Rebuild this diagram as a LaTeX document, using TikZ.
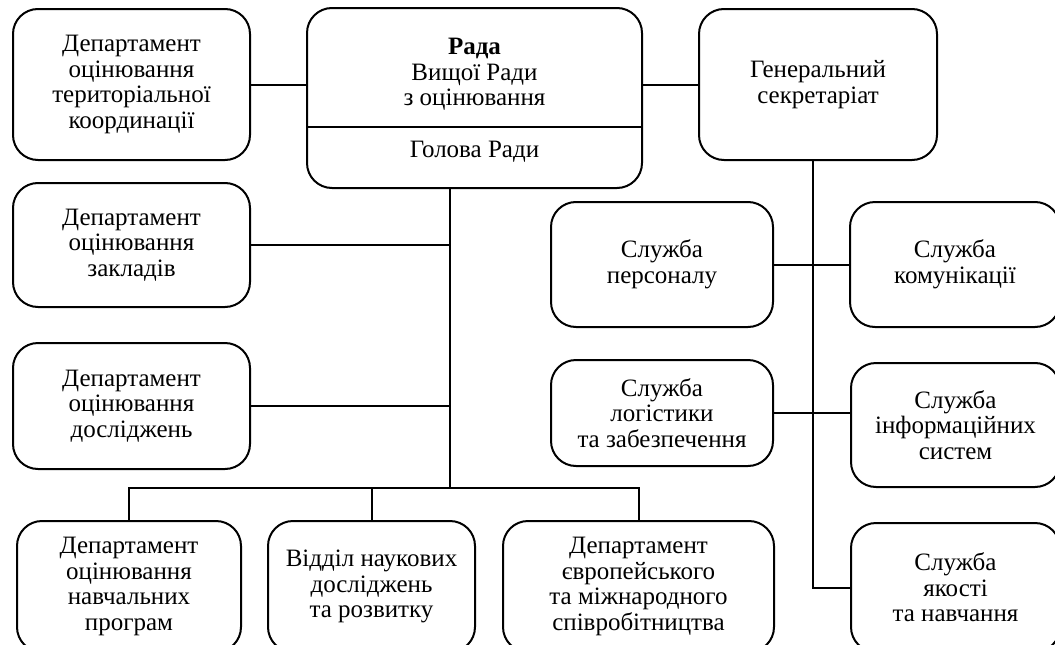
\documentclass[tikz,border=0pt]{standalone}
\usepackage{fontspec}
\setmainfont{Liberation Serif}
\tikzstyle{unit}=[draw, rounded corners=25pt, align=center, inner sep=0pt, font=\fontsize{25}{25.6}\selectfont]
\tikzstyle{unittext}=[align=center, inner sep=0pt, font=\fontsize{25}{25.6}\selectfont]

\begin{document}
\begin{tikzpicture}[x=1pt, y=-1pt, line width=2pt]
            \useasboundingbox (0,0) rectangle (1055,645);
            \clip (0,0) rectangle (1055,645);

            \node[unit, minimum width=237pt, minimum height=151pt] (terr) at (131.5,84.5)
                {Департамент\\оцінювання\\територіальної\\координації};
            \node[unit, minimum width=335pt, minimum height=180pt] (rada) at (474.5,98) {};
            \node[unittext] (radatitle) at (474.5,74.5) {\textbf{Рада}\\Вищої Ради\\з оцінювання};
            \node[unittext] (radahead) at (474.5,152) {Голова Ради};
            \coordinate (split) at (474.5,127);
            \draw (rada.west |- split) -- (rada.east |- split);
            \node[unit, minimum width=238pt, minimum height=151pt] (gensec) at (818,84.5)
                {Генеральний\\секретаріат};

            \node[unit, minimum width=237pt, minimum height=124pt] (zakl) at (131.5,245)
                {Департамент\\оцінювання\\закладів};
            \node[unit, minimum width=237pt, minimum height=126pt] (dosl) at (131.5,406)
                {Департамент\\оцінювання\\досліджень};

            \node[unit, minimum width=224pt, minimum height=131pt] (prog) at (129,586.5)
                {Департамент\\оцінювання\\навчальних\\програм};
            \node[unit, minimum width=207pt, minimum height=131pt] (nauk) at (371.5,586.5)
                {Відділ наукових\\досліджень\\та розвитку};
            \node[unit, minimum width=271pt, minimum height=131pt] (euro) at (638.5,586.5)
                {Департамент\\європейського\\та міжнародного\\співробітництва};

            \node[unit, minimum width=222pt, minimum height=125pt] (staff) at (662,264.5)
                {Служба\\персоналу};
            \node[unit, minimum width=210pt, minimum height=125pt] (comm) at (955,264.5)
                {Служба\\комунікації};
            \node[unit, minimum width=222pt, minimum height=106pt] (logist) at (662,413)
                {Служба\\логістики\\та забезпечення};
            \node[unit, minimum width=209pt, minimum height=124pt] (info) at (955.5,425)
                {Служба\\інформаційних\\систем};
            \node[unit, minimum width=209pt, minimum height=129pt] (quality) at (955.5,587.5)
                {Служба\\якості\\та навчання};

            \draw (terr.east) -- (rada.west |- terr.east);
            \draw (rada.east |- gensec.west) -- (gensec.west);

            \coordinate (rbus) at (450,488);
            \draw (rada.south -| rbus) -- (rbus);
            \draw (zakl.east) -- (zakl.east -| rbus);
            \draw (dosl.east) -- (dosl.east -| rbus);
            \draw (prog.north) -- (prog.north |- rbus) -- (euro.north |- rbus) -- (euro.north);
            \draw (nauk.north) -- (nauk.north |- rbus);

            \coordinate (sbus) at (813,587.5);
            \draw (gensec.south -| sbus) -- (sbus) -- (quality.west);
            \draw (staff.east) -- (comm.west |- staff.east);
            \draw (logist.east) -- (info.west |- logist.east);
        \end{tikzpicture}
\end{document}
